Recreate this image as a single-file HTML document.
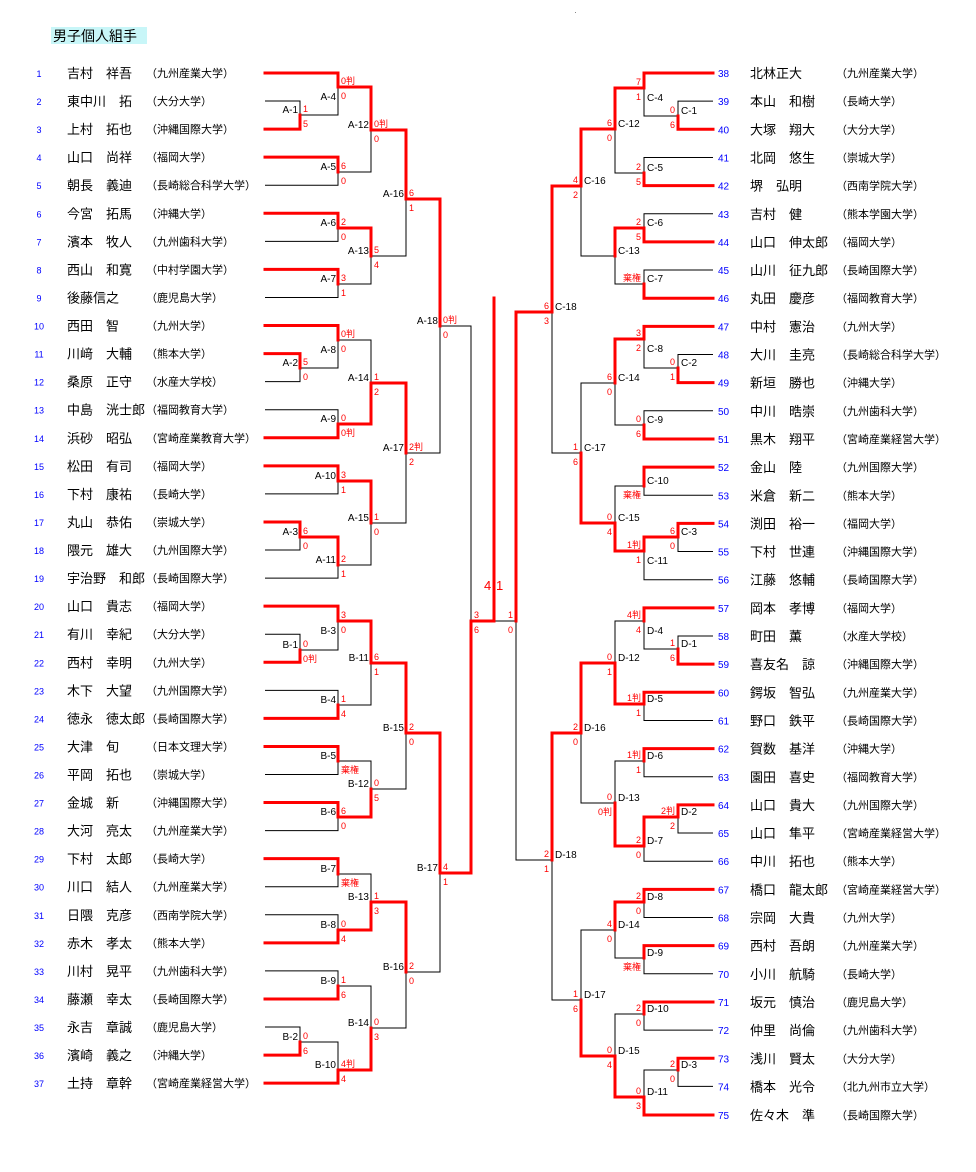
<!DOCTYPE html>
<html><head><meta charset="utf-8">
<style>
html,body{margin:0;padding:0;background:#fff;}
svg{display:block;font-family:"Liberation Sans","Noto Sans CJK JP",sans-serif;}
</style></head>
<body>
<svg id="s" width="976" height="1172" xmlns="http://www.w3.org/2000/svg">
<rect x="51" y="27" width="96" height="17" fill="#c8f6f8"/>
<text x="53" y="41" font-size="14" font-family="Liberation Sans, Noto Sans CJK JP, sans-serif">男子個人組手</text>
<rect x="575" y="12" width="1" height="1" fill="#888"/>
</svg>
<script>
var NS="http://www.w3.org/2000/svg",S=document.getElementById('s');
function el(t,a,txt){var e=document.createElementNS(NS,t);for(var k in a)e.setAttribute(k,a[k]);if(txt!=null)e.textContent=txt;S.appendChild(e);return e;}
var LN=[["吉村　祥吾","（九州産業大学）"],["東中川　拓","（大分大学）"],["上村　拓也","（沖縄国際大学）"],["山口　尚祥","（福岡大学）"],["朝長　義迪","（長崎総合科学大学）"],["今宮　拓馬","（沖縄大学）"],["濱本　牧人","（九州歯科大学）"],["西山　和寛","（中村学園大学）"],["後藤信之","（鹿児島大学）"],["西田　智","（九州大学）"],["川﨑　大輔","（熊本大学）"],["桑原　正守","（水産大学校）"],["中島　洸士郎","（福岡教育大学）"],["浜砂　昭弘","（宮崎産業教育大学）"],["松田　有司","（福岡大学）"],["下村　康祐","（長崎大学）"],["丸山　恭佑","（崇城大学）"],["隈元　雄大","（九州国際大学）"],["宇治野　和郎","（長崎国際大学）"],["山口　貴志","（福岡大学）"],["有川　幸紀","（大分大学）"],["西村　幸明","（九州大学）"],["木下　大望","（九州国際大学）"],["徳永　徳太郎","（長崎国際大学）"],["大津　旬","（日本文理大学）"],["平岡　拓也","（崇城大学）"],["金城　新","（沖縄国際大学）"],["大河　亮太","（九州産業大学）"],["下村　太郎","（長崎大学）"],["川口　結人","（九州産業大学）"],["日隈　克彦","（西南学院大学）"],["赤木　孝太","（熊本大学）"],["川村　晃平","（九州歯科大学）"],["藤瀬　幸太","（長崎国際大学）"],["永吉　章誠","（鹿児島大学）"],["濱崎　義之","（沖縄大学）"],["土持　章幹","（宮崎産業経営大学）"]];
var RN=[["北林正大","（九州産業大学）"],["本山　和樹","（長崎大学）"],["大塚　翔大","（大分大学）"],["北岡　悠生","（崇城大学）"],["堺　弘明","（西南学院大学）"],["吉村　健","（熊本学園大学）"],["山口　伸太郎","（福岡大学）"],["山川　征九郎","（長崎国際大学）"],["丸田　慶彦","（福岡教育大学）"],["中村　憲治","（九州大学）"],["大川　圭亮","（長崎総合科学大学）"],["新垣　勝也","（沖縄大学）"],["中川　晧崇","（九州歯科大学）"],["黒木　翔平","（宮崎産業経営大学）"],["金山　陸","（九州国際大学）"],["米倉　新二","（熊本大学）"],["渕田　裕一","（福岡大学）"],["下村　世連","（沖縄国際大学）"],["江藤　悠輔","（長崎国際大学）"],["岡本　孝博","（福岡大学）"],["町田　薫","（水産大学校）"],["喜友名　諒","（沖縄国際大学）"],["鍔坂　智弘","（九州産業大学）"],["野口　鉄平","（長崎国際大学）"],["賀数　基洋","（沖縄大学）"],["園田　喜史","（福岡教育大学）"],["山口　貴大","（九州国際大学）"],["山口　隼平","（宮崎産業経営大学）"],["中川　拓也","（熊本大学）"],["橋口　龍太郎","（宮崎産業経営大学）"],["宗岡　大貴","（九州大学）"],["西村　吾朗","（九州産業大学）"],["小川　航騎","（長崎大学）"],["坂元　慎治","（鹿児島大学）"],["仲里　尚倫","（九州歯科大学）"],["浅川　賢太","（大分大学）"],["橋本　光令","（北九州市立大学）"],["佐々木　準","（長崎国際大学）"]];
function py(n){if(n<=37)return 73+(n-1)*28.06;if(n==75)return 1115;return 73+(n-38)*28.15;}
var i,y;
for(i=0;i<37;i++){y=py(i+1);
el('text',{x:39,y:y+4,'font-size':9,fill:'#0000ff','text-anchor':'middle'},String(i+1));
el('text',{x:67,y:y+5,'font-size':13},LN[i][0]);
el('text',{x:146,y:y+4,'font-size':11},LN[i][1]);}
for(i=0;i<38;i++){y=py(i+38);
el('text',{x:718,y:y+4,'font-size':10,fill:'#0000ff'},String(i+38));
el('text',{x:750,y:y+5,'font-size':13},RN[i][0]);
el('text',{x:836,y:y+4,'font-size':11},RN[i][1]);}
var M=[
['A-1',300,115,'p2','p3',1,'1','5'],['A-4',338,87,'p1','A-1',0,'0判','0',1],['A-5',338,172,'p4','p5',0,'6','0'],['A-12',371,130,'A-4','A-5',0,'0判','0'],['A-6',338,228,'p6','p7',0,'2','0'],['A-7',338,284,'p8','p9',0,'3','1'],['A-13',371,256,'A-6','A-7',0,'5','4'],['A-16',406,199,'A-12','A-13',0,'6','1'],
['A-2',300,368,'p11','p12',0,'5','0'],['A-8',338,340,'p10','A-2',0,'0判','0',1],['A-9',338,424,'p13','p14',1,'0','0判'],['A-14',371,383,'A-8','A-9',1,'1','2'],['A-10',338,481,'p15','p16',0,'3','1'],['A-3',300,537,'p17','p18',0,'6','0'],['A-11',338,565,'A-3','p19',0,'2','1'],['A-15',371,523,'A-10','A-11',0,'1','0'],['A-17',406,453,'A-14','A-15',0,'2判','2'],['A-18',440,326,'A-16','A-17',0,'0判','0'],
['B-1',300,650,'p21','p22',1,'0','0判'],['B-3',338,621,'p20','B-1',0,'3','0',1],['B-4',338,705,'p23','p24',1,'1','4'],['B-11',371,663,'B-3','B-4',0,'6','1'],['B-5',338,761,'p25','p26',0,'','棄権'],['B-6',338,817,'p27','p28',0,'6','0'],['B-12',371,789,'B-5','B-6',1,'0','5'],['B-15',406,733,'B-11','B-12',0,'2','0'],
['B-7',338,874,'p29','p30',0,'','棄権'],['B-8',338,930,'p31','p32',1,'0','4'],['B-13',371,902,'B-7','B-8',1,'1','3'],['B-9',338,986,'p33','p34',1,'1','6'],['B-2',300,1042,'p35','p36',1,'0','6'],['B-10',338,1070,'B-2','p37',1,'4判','4'],['B-14',371,1028,'B-9','B-10',1,'0','3'],['B-16',406,972,'B-13','B-14',0,'2','0'],['B-17',440,873,'B-15','B-16',0,'4','1'],
['FL',471,621,'A-18','B-17',1,'3','6'],
['C-1',678,116,'p39','p40',1,'0','6'],['C-4',644,88,'p38','C-1',0,'7','1',1],['C-5',644,173,'p41','p42',1,'2','5'],['C-12',615,129,'C-4','C-5',0,'6','0'],['C-6',644,228,'p43','p44',1,'2','5'],['C-7',644,284,'p45','p46',1,'棄権',''],['C-13',615,256,'C-6','C-7',0,'',''],['C-16',581,186,'C-12','C-13',0,'4','2'],
['C-2',678,368,'p48','p49',1,'0','1'],['C-8',644,339,'p47','C-2',0,'3','2',1],['C-9',644,425,'p50','p51',1,'0','6'],['C-14',615,383,'C-8','C-9',0,'6','0'],['C-10',644,486,'p52','p53',0,'','棄権'],['C-3',678,537,'p54','p55',0,'6','0'],['C-11',644,551,'C-3','p56',0,'1判','1',1],['C-15',615,523,'C-10','C-11',1,'0','4'],['C-17',581,453,'C-14','C-15',1,'1','6'],['C-18',552,312,'C-16','C-17',0,'6','3'],
['D-1',678,649,'p58','p59',1,'1','6'],['D-4',644,621,'p57','D-1',0,'4判','4',1],['D-5',644,704,'p60','p61',0,'1判','1'],['D-12',615,663,'D-4','D-5',1,'0','1'],['D-6',644,761,'p62','p63',0,'1判','1'],['D-2',678,817,'p64','p65',0,'2判','2'],['D-7',644,846,'D-2','p66',0,'2','0'],['D-13',615,803,'D-6','D-7',1,'0','0判'],['D-16',581,733,'D-12','D-13',0,'2','0'],
['D-8',644,902,'p67','p68',0,'2','0'],['D-9',644,958,'p69','p70',0,'','棄権'],['D-14',615,930,'D-8','D-9',0,'4','0'],['D-10',644,1014,'p71','p72',0,'2','0'],['D-3',678,1070,'p73','p74',0,'2','0'],['D-11',644,1097,'D-3','p75',1,'0','3'],['D-15',615,1056,'D-10','D-11',1,'0','4'],['D-17',581,1000,'D-14','D-15',1,'1','6'],['D-18',552,860,'D-16','D-17',0,'2','1'],
['FR',516,621,'C-18','D-18',0,'1','0']];
var idx={};M.forEach(function(m){idx[m[0]]=m;});
function node(c){if(c[0]=='p'){var n=+c.slice(1);return {x:n<=37?265:713,y:py(n)};}var m=idx[c];return {x:m[1],y:m[2]};}
var blk=[],red=[];
M.forEach(function(m){var x=m[1],y=m[2];[m[3],m[4]].forEach(function(c,k){var nd=node(c);var d='M'+nd.x+' '+nd.y+'H'+x+'V'+y;(m[5]==k?red:blk).push(d);});});
blk.push('M516 621H494');
red.push('M471 621H494');red.push('M494 298V621');
el('path',{d:blk.join(' '),stroke:'#000',fill:'none','stroke-width':1});
el('path',{d:red.join(' '),stroke:'#ff0000',fill:'none','stroke-width':3,'stroke-linecap':'square'});
M.forEach(function(m){var x=m[1],y=m[2],left=x<494;
if(m[0][0]!='F'){el('text',{x:left?x-2:x+3,y:m[8]?y+13:y-2,'font-size':10,'text-anchor':left?'end':'start'},m[0]);}
var sx=left?x+3:x-3,an=left?'start':'end';
if(m[6])el('text',{x:sx,y:y-3,'font-size':9,fill:'#ff0000','text-anchor':an},m[6]);
if(m[7])el('text',{x:sx,y:y+12,'font-size':9,fill:'#ff0000','text-anchor':an},m[7]);});
el('text',{x:484,y:590,'font-size':13,fill:'#ff0000'},'4');
el('text',{x:496,y:590,'font-size':13,fill:'#ff0000'},'1');
</script>
</body></html>
